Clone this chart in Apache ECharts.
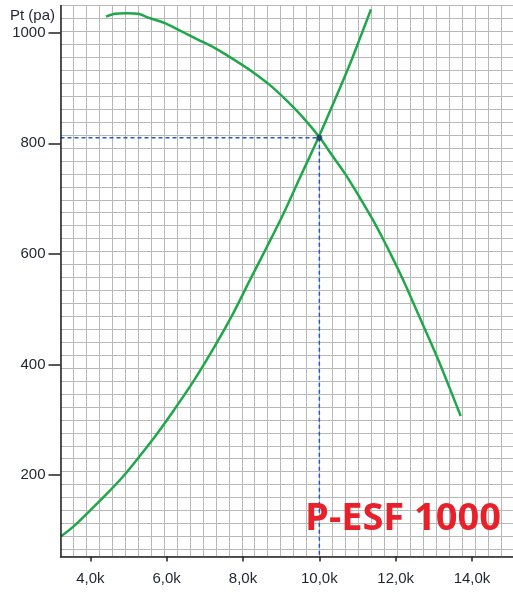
<!DOCTYPE html>
<html>
<head>
<meta charset="utf-8">
<script src="https://cdn.jsdelivr.net/npm/echarts@6/dist/echarts.min.js"></script>
<style>
html,body{margin:0;padding:0;background:#fff;}
#chart{width:513px;height:595px;}
</style>
</head>
<body>
<div id="chart"></div>
<script>
// Fan curve (airflow m3/h, pressure Pa)
var fanX = [4411, 4646, 4953, 5257, 5519, 5956, 6394, 6829, 7266, 7835, 8270, 8707, 9145, 9580, 9990, 10366, 10672, 10934, 11196, 11414, 11676, 11895, 12113, 12300, 12637, 12899, 13161, 13423, 13703];
var fanY = [1029, 1034, 1035, 1034, 1027, 1017, 1002, 987, 972, 948, 928, 905, 877, 846, 812, 775, 745, 716, 686, 660, 626, 596, 565, 537, 484, 443, 401, 356, 307];
// System curve
var sysX = [3224, 3554, 3991, 4429, 4864, 5301, 5739, 6174, 6742, 7311, 7746, 8183, 8621, 9056, 9493, 9990, 10540, 10847, 11065, 11353];
var sysY = [89, 107, 136, 166, 198, 235, 274, 316, 374, 439, 493, 553, 612, 672, 738, 812, 900, 951, 990, 1042];
// Operating point
var opPoint = [10000, 810];
// Ticks
var xTicks = [4000, 6000, 8000, 10000, 12000, 14000];
var yTicks = [200, 400, 600, 800, 1000];
var xMin = 3218, xMax = 15074, yMin = 53, yMax = 1049;
var yName = 'Pt (pa)';
var modelName = 'P-ESF 1000';

function zip(a, b) { return a.map(function (v, i) { return [v, b[i]]; }); }

var gridLeft = 60.5, gridTop = 5.5, gridRight = 0, gridBottom = 38.5;
var W = 513 - gridLeft - gridRight, H = 595 - gridTop - gridBottom;
var cell = 12.95;

var chart = echarts.init(document.getElementById('chart'), null, {renderer: 'canvas'});
var labelColor = '#1e2430';
var green = '#1ea84a';
var font = 'Liberation Sans, Arial, sans-serif';

chart.setOption({
  animation: false,
  grid: {left: gridLeft, top: gridTop, right: gridRight, bottom: gridBottom, containLabel: false},
  xAxis: [
    {
      type: 'value', min: xMin, max: xMax, position: 'bottom', z: 5,
      axisLine: {show: true, onZero: false, lineStyle: {color: '#222', width: 1.5}},
      axisTick: {show: true, length: 5, customValues: xTicks, lineStyle: {color: '#222', width: 1.5}},
      axisLabel: {
        customValues: xTicks, margin: 15, color: labelColor, fontSize: 15, fontFamily: font,
        formatter: function (v) { return (v / 1000).toFixed(1).replace('.', ',') + 'k'; }
      },
      splitLine: {show: false}
    },
    {
      type: 'value', min: 0, max: W / cell, interval: 1, position: 'top', z: 0,
      axisLine: {show: false}, axisTick: {show: false}, axisLabel: {show: false},
      splitLine: {show: true, lineStyle: {color: '#b8b8b8', width: 1}}
    }
  ],
  yAxis: [
    {
      type: 'value', min: yMin, max: yMax, position: 'left', z: 5,
      axisLine: {show: true, onZero: false, lineStyle: {color: '#222', width: 1.5}},
      axisTick: {show: true, length: 12, customValues: yTicks, lineStyle: {color: '#222', width: 1.5}},
      axisLabel: {
        customValues: yTicks, margin: 15, color: labelColor, fontSize: 15, fontFamily: font,
        formatter: function (v) { return String(v); }
      },
      splitLine: {show: false}
    },
    {
      type: 'value', min: 0, max: H / cell, interval: 1, inverse: true, position: 'right', z: 0,
      axisLine: {show: false}, axisTick: {show: false}, axisLabel: {show: false},
      splitLine: {show: true, lineStyle: {color: '#b8b8b8', width: 1}}
    }
  ],
  series: [
    {
      type: 'line', name: 'guideH', xAxisIndex: 0, yAxisIndex: 0, symbol: 'none', z: 3,
      data: [[xMin, opPoint[1]], opPoint],
      lineStyle: {color: '#2458c8', width: 1.5, type: [4, 3]}
    },
    {
      type: 'line', name: 'guideV', xAxisIndex: 0, yAxisIndex: 0, symbol: 'none', z: 3,
      data: [opPoint, [opPoint[0], yMin]],
      lineStyle: {color: '#2458c8', width: 1.5, type: [4, 3]}
    },
    {
      type: 'line', name: 'fan', xAxisIndex: 0, yAxisIndex: 0, symbol: 'none', smooth: 0.3, z: 4,
      data: zip(fanX, fanY), lineStyle: {color: green, width: 2.5}
    },
    {
      type: 'line', name: 'system', xAxisIndex: 0, yAxisIndex: 0, symbol: 'none', smooth: 0.3, z: 4,
      data: zip(sysX, sysY), lineStyle: {color: green, width: 2.5}
    },
    {
      type: 'scatter', name: 'op', xAxisIndex: 0, yAxisIndex: 0, z: 6,
      data: [opPoint], symbolSize: 6, itemStyle: {color: '#1b2f6e'}
    }
  ],
  graphic: [
    {
      type: 'text', left: 10, top: 8, z: 10,
      style: {text: yName, fill: labelColor, font: '15px ' + font}
    },
    {
      type: 'text', right: 12, top: 500, z: 10,
      style: {text: modelName, fill: '#e8202a', font: 'bold 38px "Open Sans", sans-serif'}
    }
  ]
});
</script>
</body>
</html>
